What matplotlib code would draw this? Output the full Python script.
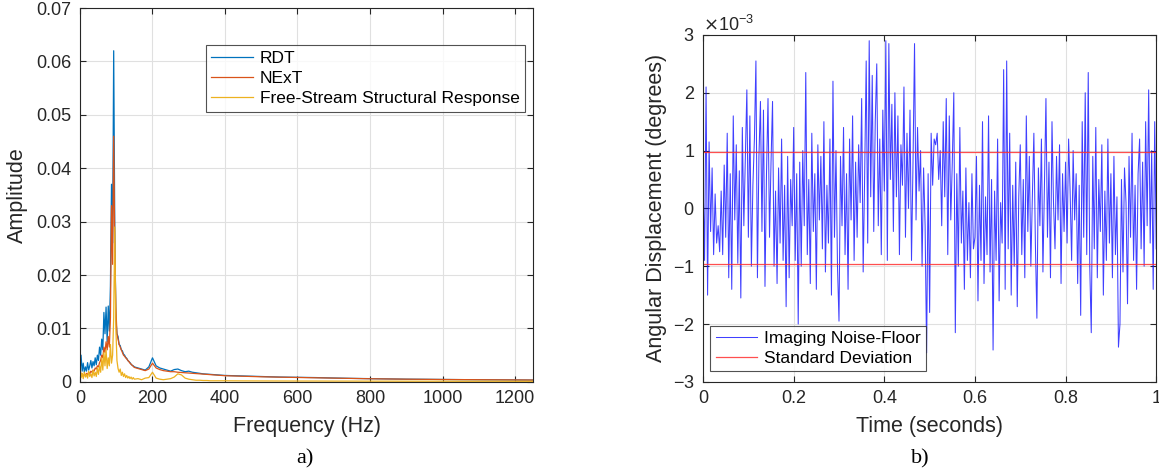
import numpy as np
import matplotlib
matplotlib.use("Agg")
import matplotlib.pyplot as plt
from matplotlib.ticker import ScalarFormatter, FuncFormatter

plt.rcParams['font.family'] = ['Liberation Sans', 'DejaVu Sans']
plt.rcParams['axes.unicode_minus'] = False

# ---------------------------------------------------------
# a) spectra, amplitudes in units of 1e-3
# ---------------------------------------------------------
freq_a = np.arange(0, 151, 3)          # 0..150 Hz
freq_b = np.arange(160, 401, 10)       # 160..400 Hz
freq_c = np.arange(450, 1251, 50)      # 450..1250 Hz
freq = np.concatenate([freq_a, freq_b, freq_c])

rdt = [1.5, 5.0, 2.0, 3.5, 1.8, 2.8, 2.0, 3.6, 2.2, 3.0, 4.0, 2.6, 3.8, 3.0, 4.5, 3.2, 5.0,
       4.0, 6.5, 5.0, 8.0, 6.0, 13.0, 9.0, 14.0, 7.5, 14.2, 9.5, 18.0, 37.0, 26.0, 62.0, 29.0,
       12.0, 9.0, 8.5, 7.0, 6.8, 6.0, 5.8, 5.2, 5.0, 4.6, 4.4, 4.0, 3.8, 3.6, 3.3, 3.1, 3.0, 2.8,
       2.6, 2.4, 2.2, 2.8, 4.5, 3.0, 2.6, 2.4, 2.2, 2.0, 2.3, 2.4, 2.1, 1.9, 2.0, 1.8, 1.7, 1.6,
       1.5, 1.45, 1.4, 1.35, 1.3, 1.25, 1.2,
       1.1, 1.0, 0.9, 0.85, 0.8, 0.72, 0.65, 0.6, 0.55, 0.5, 0.48, 0.45, 0.42, 0.4, 0.38, 0.35, 0.33]

next_ = [2.5, 1.2, 1.5, 1.0, 1.4, 1.2, 1.6, 1.3, 1.8, 1.5, 2.0, 1.8, 2.2, 2.0, 2.6, 2.4, 3.0,
         2.8, 3.6, 4.0, 5.0, 4.5, 6.5, 5.5, 7.5, 6.0, 8.5, 6.5, 12.0, 33.0, 22.0, 46.0, 25.0,
         14.0, 9.0, 8.0, 7.0, 6.5, 6.0, 5.5, 5.0, 4.8, 4.5, 4.3, 4.0, 3.8, 3.5, 3.3, 3.1, 2.9, 2.7,
         2.5, 2.3, 2.1, 2.4, 3.5, 2.6, 2.3, 2.1, 2.0, 1.9, 1.9, 1.8, 1.75, 1.7, 1.65, 1.6, 1.55,
         1.5, 1.45, 1.4, 1.35, 1.3, 1.25, 1.2, 1.15,
         1.05, 0.95, 0.88, 0.82, 0.76, 0.7, 0.64, 0.58, 0.54, 0.5, 0.47, 0.44, 0.42, 0.4, 0.38, 0.36, 0.34]

free_stream = [2.8, 0.8, 1.6, 0.6, 1.8, 0.9, 1.4, 0.7, 2.0, 1.0, 1.5, 0.8, 2.2, 1.1, 1.8, 1.0, 2.6,
               1.4, 3.0, 1.8, 4.5, 2.2, 5.5, 3.0, 6.0, 2.5, 4.5, 3.0, 7.0, 3.5, 5.0, 12.0, 29.0,
               10.0, 4.0, 2.5, 1.8, 2.4, 1.2, 1.8, 1.0, 1.5, 0.8, 1.2, 0.7, 1.0, 0.6, 0.9, 0.5, 0.8, 0.5,
               0.6, 0.4, 0.7, 0.8, 1.8, 0.7, 0.5, 0.4, 0.5, 0.6, 0.9, 1.5, 1.3, 0.7, 0.5, 0.4, 0.3,
               0.3, 0.25, 0.25, 0.2, 0.2, 0.2, 0.2, 0.2,
               0.18, 0.17, 0.16, 0.15, 0.15, 0.14, 0.14, 0.13, 0.13, 0.12, 0.12, 0.12, 0.11, 0.11,
               0.11, 0.1, 0.1]

# ---------------------------------------------------------
# b) imaging noise floor, degrees in units of 1e-3
# ---------------------------------------------------------
noise = [
    # 0.0 - 0.1
    0.5, -0.9, 2.1, -1.5, 1.15, -0.4, 0.7, -0.8, 0.25, -0.6, -0.3, -0.75, 0.3, -0.8, 0.75,
    -0.5, 1.3, -1.2, 0.6, -1.4, 1.6, -0.2, 1.1, -0.95, 0.65, -1.55, 1.4, -0.3, 0.9, 2.05,
    # 0.1 - 0.2
    -0.5, 1.6, -1.0, 0.4, 1.2, 2.55, -1.2, 0.9, 1.85, -0.4, 1.7, -1.35, 0.6, 1.9, -0.5,
    0.8, 1.85, -1.0, 0.3, -1.3, 0.7, -0.6, 1.2, -0.9, 0.4, -1.7, 0.9, -1.2, 0.5, -0.3,
    # 0.2 - 0.3
    1.4, -0.9, 0.6, -2.0, 0.8, -1.0, 1.0, -0.3, 2.35, -0.8, 0.5, -1.3, 1.3, -0.4, 0.6,
    -1.4, 1.1, -0.2, 0.9, -0.7, 1.5, -1.1, 0.4, -0.6, 1.2, -1.5, 2.2, -0.5, 1.0, -1.0,
    # 0.3 - 0.4
    -1.95, 0.9, -0.3, 1.4, -0.8, 0.6, -1.4, 1.2, -0.2, 1.6, -0.9, 0.8, -0.5, 1.1, 0.1,
    1.9, -1.1, 0.6, 2.55, -0.6, 2.9, 0.2, 2.3, -0.4, 1.5, 2.5, -0.3, 1.2, -0.8, 1.7,
    # 0.4 - 0.5
    0.3, 2.9, -0.9, 2.85, 0.5, 1.8, -0.4, 2.0, 0.2, 1.6, -0.8, 1.1, 0.4, 2.1, -0.5,
    1.3, 0.0, 1.7, -0.9, 0.8, 2.85, -0.2, 1.4, 0.3, 1.0, -1.0, 0.7, -0.3, -2.5, 0.6,
    # 0.5 - 0.6
    -1.8, 1.3, 0.4, 1.2, 1.1, 1.3, 0.5, 1.0, -0.3, 1.5, 0.2, 1.9, -0.8, 1.6, -0.2,
    0.8, 2.0, -2.15, 0.6, -1.0, 1.4, -0.6, 0.3, -1.4, 0.7, -0.9, 0.1, -1.2, 0.6, -0.7,
    # 0.6 - 0.7
    -0.5, 0.9, -1.6, 0.4, -0.9, 1.5, -1.3, 0.2, -0.8, 1.6, -1.1, 0.5, -2.45, 0.3, -0.9,
    1.2, -1.6, 0.1, -0.6, 2.4, -1.4, 2.55, -0.7, 1.3, -1.5, 0.4, -1.0, 0.8, -1.7, 0.2,
    # 0.7 - 0.8
    1.1, -0.8, 0.5, -1.2, 1.6, -0.4, 0.9, -1.0, 0.2, 1.3, -0.6, -1.9, 0.7, -0.3, 1.2,
    -1.1, 0.4, 1.9, -0.5, 0.8, -1.2, 1.5, 0.1, -0.7, 0.9, -0.2, 1.1, -1.3, 0.6, -0.4,
    # 0.8 - 0.9
    0.8, -0.6, 1.2, 0.3, -0.9, 1.0, -0.2, 0.6, -1.3, 0.4, -1.85, 1.5, -0.5, 2.0, -0.8,
    2.35, -1.0, -2.15, 0.9, -0.7, 1.4, -1.2, 0.5, -0.4, 1.1, -1.5, 0.3, -0.9, 1.2, -0.6,
    # 0.9 - 1.0
    0.6, -1.2, 0.9, -0.8, 0.2, -2.4, -2.0, 0.5, -1.1, 0.7, 0.1, -1.65, 0.9, -0.5, 1.3,
    -0.9, 0.4, -1.4, 0.6, 1.2, -0.7, 0.8, -1.0, 1.5, -0.3, 2.05, -0.6, 1.0, -1.4, 1.5, -0.7,
]
std_dev = 0.97  # 1e-3 degrees

# ---------------------------------------------------------
# Figure
# ---------------------------------------------------------
fig = plt.figure(figsize=(11.59, 4.72), dpi=100)
ax1 = fig.add_axes([0.069, 0.191, 0.391, 0.792])
ax2 = fig.add_axes([0.6066, 0.191, 0.391, 0.735])

def matlab_axes(ax):
    ax.grid(True, color='#e0e0e0', linewidth=0.8)
    ax.set_axisbelow(True)
    ax.tick_params(direction='in', top=True, right=True, labelsize=13, length=4,
                   color='#262626', labelcolor='#262626', pad=6)
    for s in ax.spines.values():
        s.set_color('#262626')
        s.set_linewidth(0.8)

leg_kw = dict(fontsize=12.5, frameon=True, fancybox=False, edgecolor='#262626',
              handlelength=2.4, borderpad=0.3, labelspacing=0.3, handletextpad=0.4,
              borderaxespad=0)

ax1.plot(freq, np.array(rdt) * 1e-3, color='#0072BD', lw=0.9, label='RDT')
ax1.plot(freq, np.array(next_) * 1e-3, color='#D95319', lw=0.9, label='NExT')
ax1.plot(freq, np.array(free_stream) * 1e-3, color='#EDB120', lw=0.9,
         label='Free-Stream Structural Response')
ax1.set_xlim(0, 1250)
ax1.set_ylim(0, 0.07)
ax1.set_xticks(np.arange(0, 1201, 200))
ax1.set_yticks(np.arange(0, 0.0701, 0.01))
ax1.yaxis.set_major_formatter(FuncFormatter(lambda v, p: f"{v:g}"))
matlab_axes(ax1)
ax1.set_xlabel('Frequency (Hz)', fontsize=15.5, color='#262626', labelpad=6)
ax1.set_ylabel('Amplitude', fontsize=15.5, color='#262626', labelpad=6)
leg1 = ax1.legend(loc='upper right', bbox_to_anchor=(0.982, 0.9), **leg_kw)
leg1.get_frame().set_linewidth(0.8)

t = np.linspace(0, 1, len(noise))
ax2.plot(t, np.array(noise) * 1e-3, color='#1010ff', lw=0.75, alpha=0.8,
         label='Imaging Noise-Floor')
ax2.axhline(std_dev * 1e-3, color='#ff3030', lw=0.9, alpha=0.85, label='Standard Deviation')
ax2.axhline(-std_dev * 1e-3, color='#ff3030', lw=0.9, alpha=0.85)
ax2.set_xlim(0, 1)
ax2.set_ylim(-3e-3, 3e-3)
ax2.set_xticks([0, 0.2, 0.4, 0.6, 0.8, 1])
ax2.set_yticks(np.arange(-3, 4) * 1e-3)
ax2.xaxis.set_major_formatter(FuncFormatter(lambda v, p: f"{v:g}"))
fmt = ScalarFormatter(useMathText=True)
fmt.set_powerlimits((-2, 2))
ax2.yaxis.set_major_formatter(fmt)
ax2.yaxis.get_offset_text().set_fontsize(13)
ax2.yaxis.get_offset_text().set_color('#262626')
matlab_axes(ax2)
ax2.set_xlabel('Time (seconds)', fontsize=15.5, color='#262626', labelpad=6)
ax2.set_ylabel('Angular Displacement (degrees)', fontsize=15.5, color='#262626', labelpad=4)
leg2 = ax2.legend(loc='lower left', bbox_to_anchor=(0.016, 0.03), **leg_kw)
leg2.get_frame().set_linewidth(0.8)

fig.text(0.263, 0.018, 'a)', fontsize=16, family='Liberation Serif', ha='center')
fig.text(0.794, 0.018, 'b)', fontsize=16, family='Liberation Serif', ha='center')

fig.savefig('out.png', dpi=100)
